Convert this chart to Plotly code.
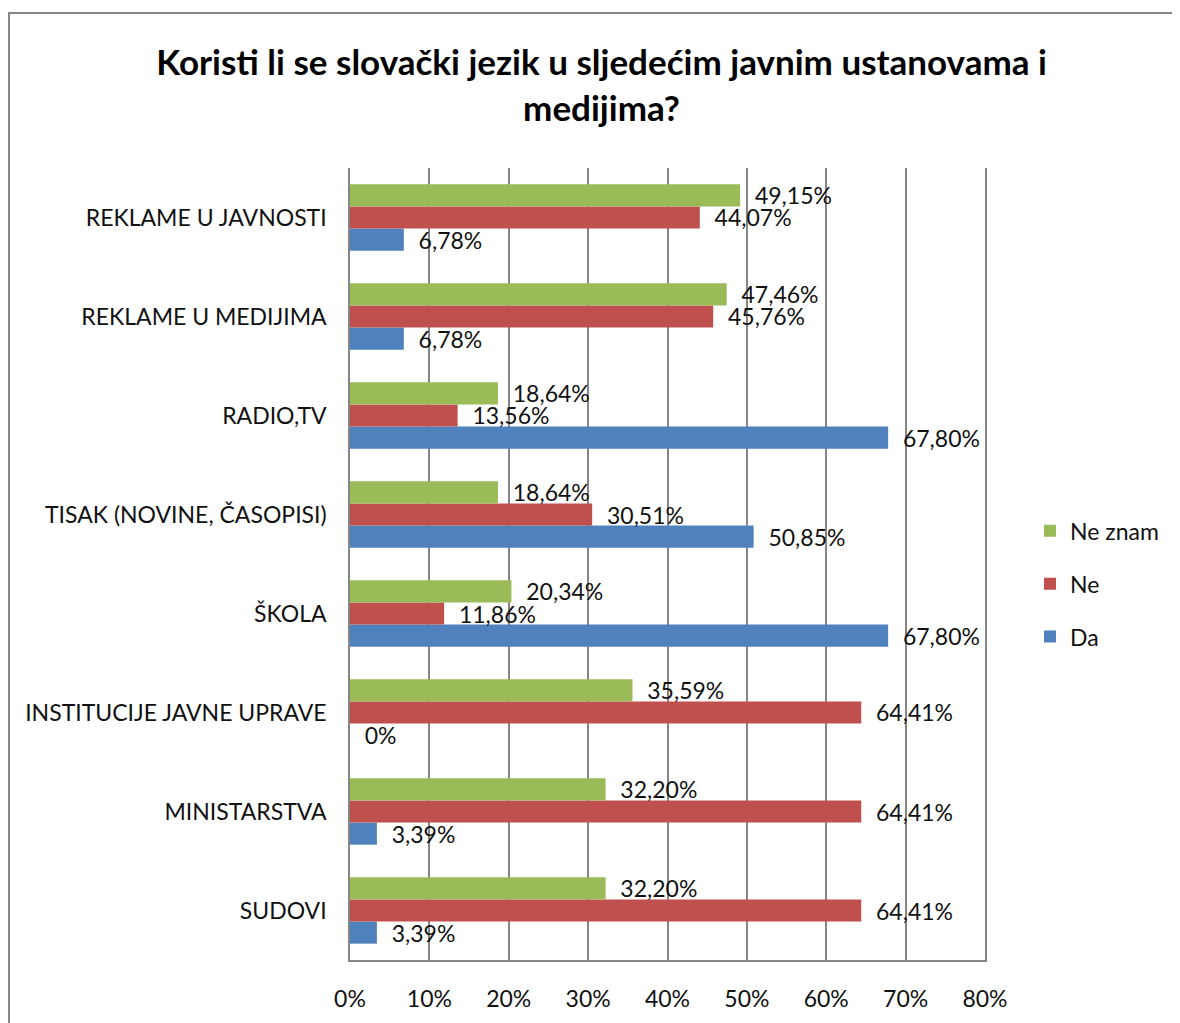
import plotly.graph_objects as go

# kategorije odozdo prema gore (kao u Excelu)
categories = [
    "SUDOVI",
    "MINISTARSTVA",
    "INSTITUCIJE JAVNE UPRAVE",
    "ŠKOLA",
    "TISAK (NOVINE, ČASOPISI)",
    "RADIO,TV",
    "REKLAME U MEDIJIMA",
    "REKLAME U JAVNOSTI",
]
da = [3.39, 3.39, 0, 67.80, 50.85, 67.80, 6.78, 6.78]
ne = [64.41, 64.41, 64.41, 11.86, 30.51, 13.56, 45.76, 44.07]
ne_znam = [32.20, 32.20, 35.59, 20.34, 18.64, 18.64, 47.46, 49.15]
x_ticks = [0, 10, 20, 30, 40, 50, 60, 70, 80]

COLORS = {
    "da": "#4F81BD",
    "ne": "#C0504D",
    "ne_znam": "#9BBB59",
    "grid": "#868686",
    "text": "#111111",
}
FONT = "Lato, 'Open Sans', sans-serif"

# margine (stranica ima 8px pomak)
ML, MR, MT, MB = 342, 203, 160, 71
PW, PH = 1180 - ML - MR, 1023 - MT - MB


def fmt(v):
    if v == 0:
        return "  0%"
    return "  " + f"{v:.2f}%".replace(".", ",")


fig = go.Figure()
series = [("Da", da, "da", 3), ("Ne", ne, "ne", 2), ("Ne znam", ne_znam, "ne_znam", 1)]
for name, vals, key, rank in series:
    fig.add_trace(go.Bar(
        y=categories,
        x=vals,
        name=name,
        orientation="h",
        legendgroup=name,
        legendrank=rank,
        marker=dict(color=COLORS[key], line=dict(width=0)),
        text=[fmt(v) for v in vals],
        textposition="outside",
        constraintext="none",
        textfont=dict(size=23, color=COLORS["text"], family=FONT),
        cliponaxis=False,
        hoverinfo="skip",
    ))

fig.update_layout(
    width=1180,
    height=1023,
    paper_bgcolor="white",
    plot_bgcolor="white",
    barmode="group",
    bargap=0.33,
    bargroupgap=0,
    margin=dict(l=ML, r=MR, t=MT, b=MB),
    font=dict(family=FONT, color=COLORS["text"]),
    title=dict(
        text="<b>Koristi li se slovački jezik u sljedećim javnim ustanovama i<br>medijima?</b>",
        x=0.503,
        xanchor="center",
        y=1 - 67 / 1023,
        yanchor="top",
        font=dict(size=35, family=FONT, color="#000000"),
    ),
    legend=dict(
        x=(1022 - ML) / PW,
        xanchor="left",
        y=0.475,
        yanchor="middle",
        traceorder="grouped",
        tracegroupgap=20,
        font=dict(size=23, family=FONT, color=COLORS["text"]),
    ),
    xaxis=dict(
        range=[0, 80],
        tickmode="array",
        tickvals=x_ticks,
        ticktext=[f"{v}%" for v in x_ticks],
        showgrid=True,
        gridcolor=COLORS["grid"],
        gridwidth=1.5,
        showline=True,
        linecolor=COLORS["grid"],
        linewidth=1.5,
        zeroline=False,
        ticks="",
        ticklabelstandoff=18,
        tickfont=dict(size=23, family=FONT, color=COLORS["text"]),
        fixedrange=True,
    ),
    yaxis=dict(
        showgrid=False,
        showline=True,
        mirror=True,
        linecolor=COLORS["grid"],
        linewidth=1.5,
        ticks="",
        ticklabelstandoff=17,
        tickfont=dict(size=23, family=FONT, color=COLORS["text"]),
        fixedrange=True,
    ),
)

# okvir grafikona
fig.add_shape(
    type="rect",
    xref="paper", yref="paper",
    x0=(1 - ML) / PW, x1=(1220 - ML) / PW,
    y0=-0.2, y1=1 + (MT - 5) / PH,
    line=dict(color=COLORS["grid"], width=2),
    fillcolor="rgba(0,0,0,0)",
    layer="below",
)

fig.write_html("out.html")
